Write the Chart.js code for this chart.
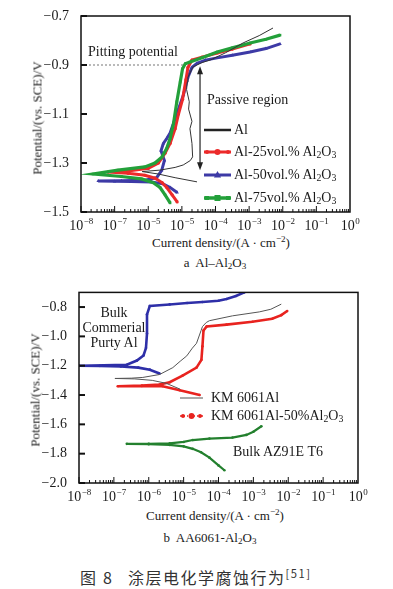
<!DOCTYPE html>
<html lang="zh-CN">
<head>
<meta charset="UTF-8">
<title>涂层电化学腐蚀行为</title>
<script src="https://cdn.jsdelivr.net/npm/chart.js"></script>
<style>
  body { margin: 0; background: #fff; width: 393px; height: 589px; position: relative; overflow: hidden;
         font-family: "Liberation Serif", "Times New Roman", "DejaVu Serif", serif; color: #1a1a1a; }
  canvas { position: absolute; left: 0; }
  .t { position: absolute; white-space: nowrap; font-size: 14px; line-height: 1; transform: translateY(-50%); }
  .c { position: absolute; white-space: nowrap; font-size: 13px; line-height: 1; transform: translate(-50%, -50%); }
  .rot { position: absolute; white-space: nowrap; font-size: 13px; line-height: 1; transform: translate(-50%, -50%) rotate(-90deg); }
  .ctr { text-align: center; line-height: 15px; transform: translate(-50%, 0); }
  sub { font-size: 70%; vertical-align: -0.25em; line-height: 0; }
  sup { font-size: 70%; vertical-align: 0.55em; line-height: 0; }
  .cap { position: absolute; white-space: nowrap; font-family: "Noto Sans CJK SC", sans-serif; font-size: 16px; color: #333; line-height: 1; transform: translateY(-50%); }
</style>
</head>
<body>
  <!-- 图 a -->
  <canvas id="chartA" width="393" height="232" style="top:0"></canvas>
  <div class="rot" style="left:37px; top:118px">Potential/(vs. SCE)/V</div>
  <div class="t" style="left:88px; top:52px">Pitting potential</div>
  <div class="t" style="left:207px; top:100px">Passive region</div>
  <div class="t" style="left:234px; top:130px">Al</div>
  <div class="t" style="left:234px; top:152px">Al-25vol.% Al<sub>2</sub>O<sub>3</sub></div>
  <div class="t" style="left:234px; top:175px">Al-50vol.% Al<sub>2</sub>O<sub>3</sub></div>
  <div class="t" style="left:234px; top:198px">Al-75vol.% Al<sub>2</sub>O<sub>3</sub></div>
  <div class="c" style="left:221px; top:242px">Current density/(A · cm<sup>−2</sup>)</div>
  <div class="c" style="left:215px; top:262px">a&nbsp; Al–Al<sub>2</sub>O<sub>3</sub></div>

  <!-- 图 b -->
  <canvas id="chartB" width="393" height="223" style="top:280px"></canvas>
  <div class="rot" style="left:35px; top:390px">Potential/(vs. SCE)/V</div>
  <div class="t ctr" style="left:114px; top:305px">Bulk<br>Commerial<br>Purty Al</div>
  <div class="t" style="left:211px; top:398px">KM 6061Al</div>
  <div class="t" style="left:211px; top:416px">KM 6061Al-50%Al<sub>2</sub>O<sub>3</sub></div>
  <div class="t" style="left:233px; top:452px">Bulk AZ91E T6</div>
  <div class="c" style="left:215px; top:515px">Current density/(A · cm<sup>−2</sup>)</div>
  <div class="c" style="left:210px; top:537px">b&nbsp; AA6061-Al<sub>2</sub>O<sub>3</sub></div>

  <div class="cap" style="left:80px; top:577px">图<span style="margin-left:7px">8</span></div>
  <div class="cap" style="left:128px; top:577px; letter-spacing:1.5px">涂层电化学腐蚀行为<sup>[51]</sup></div>

<script>
// x 值均为 log10(电流密度 / A·cm⁻²)，y 为电位 / V
const xTicks = [-8, -7, -6, -5, -4, -3, -2, -1, 0];
// 刻度标签 "10" 的指数（图 a 原图第三个标签印作 10⁻⁵）
const xExpA = ['−8', '−7', '−5', '−5', '−4', '−3', '−2', '−1', '0'];
const xExpB = ['−8', '−7', '−6', '−5', '−4', '−3', '−2', '−1', '0'];
const yTicksA = [-1.5, -1.3, -1.1, -0.9, -0.7];
const yTicksB = [-2.0, -1.8, -1.6, -1.4, -1.2, -1.0, -0.8];

// 图 a: Al–Al2O3
const alX  = [-4.55, -5.2, -5.7, -6.18, -5.65, -5.2, -4.96, -4.75, -4.68, -4.7, -4.76, -4.7, -4.8, -4.78, -4.86, -4.84, -4.82, -4.67, -4.4, -4.16, -3.7, -3.18, -2.7, -2.29];
const alY  = [-1.377, -1.36, -1.345, -1.335, -1.329, -1.318, -1.308, -1.29, -1.275, -1.22, -1.16, -1.13, -1.08, -1.05, -1.0, -0.97, -0.95, -0.908, -0.89, -0.88, -0.85, -0.81, -0.78, -0.749];
const al25X = [-5.14, -5.29, -5.45, -5.59, -5.8, -6.1, -6.6, -7.2, -6.6, -6.0, -5.7, -5.5, -5.35, -5.2, -5.1, -4.98, -4.88, -4.82, -4.7, -4.4, -3.95, -3.5, -2.97];
const al25Y = [-1.459, -1.43, -1.4, -1.38, -1.362, -1.35, -1.342, -1.337, -1.333, -1.322, -1.3, -1.26, -1.22, -1.16, -1.1, -1.04, -0.96, -0.91, -0.88, -0.868, -0.851, -0.835, -0.814];
const al50X = [-5.14, -5.35, -5.56, -5.9, -6.5, -7.0, -7.49, -6.8, -6.1, -5.75, -5.6, -5.52, -5.62, -5.55, -5.45, -5.35, -5.1, -4.95, -4.82, -4.7, -4.55, -4.3, -3.95, -3.5, -2.97, -2.5, -2.08];
const al50Y = [-1.42, -1.4, -1.385, -1.378, -1.376, -1.375, -1.373, -1.372, -1.37, -1.36, -1.33, -1.29, -1.25, -1.22, -1.2, -1.178, -1.08, -1.02, -0.95, -0.91, -0.893, -0.88, -0.871, -0.86, -0.847, -0.833, -0.814];
const al75X = [-5.35, -5.5, -5.65, -5.85, -6.2, -6.8, -7.64, -6.9, -6.1, -5.8, -5.59, -5.45, -5.35, -5.25, -5.15, -5.05, -4.98, -4.9, -4.76, -4.4, -3.95, -3.5, -2.97, -2.5, -2.08];
const al75Y = [-1.463, -1.43, -1.4, -1.38, -1.365, -1.355, -1.345, -1.329, -1.316, -1.3, -1.275, -1.24, -1.2, -1.14, -1.05, -0.97, -0.915, -0.895, -0.888, -0.87, -0.847, -0.83, -0.81, -0.795, -0.778];
const pitX = [-8, -4.9];
const pitY = [-0.9, -0.9];
const passiveX = -4.46;
const passiveRange = [-0.905, -1.33];

// 图 b: AA6061-Al2O3
const pureX = [-5.69, -5.97, -6.3, -6.8, -7.4, -8.0, -7.3, -6.63, -6.34, -6.15, -6.08, -6.05, -6.05, -5.97, -5.4, -4.9, -4.46, -4.0, -3.77, -3.5, -3.26];
const pureY = [-1.253, -1.227, -1.213, -1.205, -1.201, -1.2, -1.198, -1.193, -1.165, -1.13, -1.08, -0.98, -0.85, -0.793, -0.782, -0.772, -0.765, -0.757, -0.745, -0.725, -0.7];
const kmX = [-5.1, -5.5, -5.9, -6.4, -6.97, -6.5, -6.17, -5.69, -5.31, -5.1, -4.91, -4.75, -4.63, -4.5, -4.46, -4.35, -4.26, -3.9, -3.6, -2.83, -2.5, -2.2];
const kmY = [-1.36, -1.32, -1.3, -1.29, -1.287, -1.285, -1.28, -1.26, -1.213, -1.17, -1.133, -1.08, -1.047, -0.96, -0.933, -0.905, -0.893, -0.875, -0.86, -0.833, -0.815, -0.78];
const km50X = [-4.54, -5.11, -5.6, -6.2, -6.89, -6.2, -5.69, -5.4, -5.03, -4.63, -4.49, -4.46, -4.43, -4.34, -3.77, -3.03, -2.46, -2.2, -2.03];
const km50Y = [-1.4, -1.367, -1.34, -1.338, -1.34, -1.335, -1.328, -1.313, -1.267, -1.213, -1.16, -1.067, -0.96, -0.933, -0.92, -0.9, -0.88, -0.855, -0.827];
const azX = [-3.83, -4.0, -4.26, -4.5, -4.74, -5.0, -5.4, -6.0, -6.63, -6.0, -5.4, -5.0, -4.74, -4.26, -3.6, -3.2, -3.0, -2.77];
const azY = [-1.913, -1.88, -1.827, -1.79, -1.767, -1.75, -1.74, -1.735, -1.733, -1.733, -1.73, -1.72, -1.707, -1.697, -1.69, -1.672, -1.65, -1.613];

const RED = '#ec2a2a', BLUE = '#3d3aa6', GREEN = '#23a03a';
const FONT = "'Liberation Serif', 'Times New Roman', 'DejaVu Serif', serif";

const pts = (xs, ys) => xs.map((x, i) => ({ x: x, y: ys[i] }));

function line(ctx, x0, y0, x1, y1) {
  ctx.beginPath(); ctx.moveTo(x0, y0); ctx.lineTo(x1, y1); ctx.stroke();
}

function marker(ctx, style, x, y, r) {
  ctx.beginPath();
  if (style === 'circle') ctx.arc(x, y, r, 0, Math.PI * 2);
  else if (style === 'rect') ctx.rect(x - r, y - r, 2 * r, 2 * r);
  else if (style === 'triangle') { ctx.moveTo(x, y - r * 1.3); ctx.lineTo(x + r * 1.2, y + r * 0.8); ctx.lineTo(x - r * 1.2, y + r * 0.8); ctx.closePath(); }
  ctx.fill();
}

// 外框、内向刻度、10ⁿ 标签、图例线样和箭头
const extras = {
  id: 'extras',
  afterDatasetsDraw(chart, args, opts) {
    const { ctx, chartArea: a, scales: { x, y } } = chart;
    ctx.save();
    ctx.strokeStyle = '#111';
    ctx.lineWidth = 1.5;
    ctx.strokeRect(a.left, a.top, a.right - a.left, a.bottom - a.top);
    ctx.lineWidth = 1;
    for (let d = -8; d < 0; d++) {
      for (let m = 1; m <= 9; m++) {
        const px = x.getPixelForValue(d + Math.log10(m));
        line(ctx, px, a.bottom, px, a.bottom - (m === 1 ? 6 : 3));
      }
    }
    ctx.lineWidth = 2;
    opts.yTicks.forEach(v => {
      const py = y.getPixelForValue(v);
      line(ctx, a.left, py, a.left + 6, py);
    });

    // x 轴标签：10 加上标指数
    ctx.fillStyle = '#1a1a1a';
    ctx.textBaseline = 'alphabetic';
    ctx.textAlign = 'left';
    xTicks.forEach((v, i) => {
      const px = x.getPixelForValue(v);
      const e = opts.xExp[i];
      ctx.font = '14px ' + FONT;
      const wBase = ctx.measureText('10').width;
      ctx.font = '9px ' + FONT;
      const wExp = ctx.measureText(e).width;
      const left = px - (wBase + wExp) / 2;
      const base = a.bottom + 18;
      ctx.font = '14px ' + FONT;
      ctx.fillText('10', left, base);
      ctx.font = '9px ' + FONT;
      ctx.fillText(e, left + wBase + 0.5, base - 6);
    });

    if (opts.arrow) {
      const ax = x.getPixelForValue(opts.arrow.x);
      const y0 = y.getPixelForValue(opts.arrow.top), y1 = y.getPixelForValue(opts.arrow.bottom);
      ctx.strokeStyle = '#222'; ctx.fillStyle = '#222'; ctx.lineWidth = 1.2;
      line(ctx, ax, y0 + 5, ax, y1 - 5);
      ctx.beginPath(); ctx.moveTo(ax, y0); ctx.lineTo(ax + 3, y0 + 8); ctx.lineTo(ax - 3, y0 + 8); ctx.closePath(); ctx.fill();
      ctx.beginPath(); ctx.moveTo(ax, y1); ctx.lineTo(ax + 3, y1 - 8); ctx.lineTo(ax - 3, y1 - 8); ctx.closePath(); ctx.fill();
    }

    (opts.legend || []).forEach(e => {
      ctx.strokeStyle = e.color; ctx.fillStyle = e.color; ctx.lineWidth = e.w;
      ctx.setLineDash(e.dash || []);
      line(ctx, opts.lx0, e.y, opts.lx1, e.y);
      ctx.setLineDash([]);
      if (e.marker) {
        marker(ctx, e.marker, (opts.lx0 + opts.lx1) / 2, e.y, 3);
        if (e.marker !== 'triangle') { marker(ctx, e.marker, opts.lx0 + 3, e.y, 2); marker(ctx, e.marker, opts.lx1 - 3, e.y, 2); }
      }
    });
    ctx.restore();
  }
};

function makeChart(id, datasets, cfg) {
  return new Chart(document.getElementById(id), {
    type: 'scatter',
    data: { datasets: datasets },
    options: {
      responsive: false,
      animation: false,
      layout: { padding: cfg.pad },
      elements: { line: { tension: 0 } },
      plugins: {
        legend: { display: false },
        tooltip: { enabled: false },
        extras: cfg.extras
      },
      scales: {
        x: {
          type: 'linear', min: -8, max: 0,
          grid: { display: false }, border: { display: false },
          afterFit: s => { s.height = 20; },
          afterBuildTicks: s => { s.ticks = xTicks.map(v => ({ value: v })); },
          ticks: { display: false }
        },
        y: {
          min: cfg.yMin, max: cfg.yMax,
          grid: { display: false }, border: { display: false },
          afterFit: s => { s.width = 40; },
          afterBuildTicks: s => { s.ticks = cfg.extras.yTicks.map(v => ({ value: v })); },
          ticks: { padding: 4, color: '#1a1a1a', font: { family: FONT, size: 14 },
                   callback: v => '−' + Math.abs(v).toFixed(1) }
        }
      }
    },
    plugins: [extras]
  });
}

makeChart('chartA', [
  { data: pts(alX, alY), showLine: true, borderColor: '#333', borderWidth: 1, pointRadius: 0, order: 0 },
  { data: pts(al75X, al75Y), showLine: true, borderColor: GREEN, backgroundColor: GREEN, borderWidth: 3.2,
    pointStyle: 'rect', pointRadius: 1.8, pointBorderWidth: 0, order: 1 },
  { data: pts(al25X, al25Y), showLine: true, borderColor: RED, backgroundColor: RED, borderWidth: 3,
    pointStyle: 'circle', pointRadius: 1.6, pointBorderWidth: 0, order: 2 },
  { data: pts(al50X, al50Y), showLine: true, borderColor: BLUE, backgroundColor: BLUE, borderWidth: 3,
    pointStyle: 'triangle', pointRadius: 2, pointBorderWidth: 0, order: 3 },
  { data: pts(pitX, pitY), showLine: true, borderColor: '#777', borderWidth: 1, borderDash: [2, 2],
    pointRadius: 0, order: 4 }
], {
  pad: { left: 41, right: 43, top: 16, bottom: 0 },
  yMin: -1.5, yMax: -0.7,
  extras: {
    yTicks: yTicksA,
    xExp: xExpA,
    arrow: { x: passiveX, top: passiveRange[0], bottom: passiveRange[1] },
    lx0: 204, lx1: 231,
    legend: [
      { y: 130, color: '#222', w: 2.5 },
      { y: 152, color: RED, w: 3, marker: 'circle' },
      { y: 175, color: BLUE, w: 3, marker: 'triangle' },
      { y: 198, color: GREEN, w: 3.5, marker: 'rect' }
    ]
  }
});

makeChart('chartB', [
  { data: pts(kmX, kmY), showLine: true, borderColor: '#555', borderWidth: 1, pointRadius: 0, order: 0 },
  { data: pts(pureX, pureY), showLine: true, borderColor: '#2e2fa8', backgroundColor: '#2e2fa8', borderWidth: 2.6,
    pointRadius: 1.3, pointBorderWidth: 0, order: 1 },
  { data: pts(km50X, km50Y), showLine: true, borderColor: '#e8231f', backgroundColor: '#e8231f', borderWidth: 2.6,
    pointRadius: 1.3, pointBorderWidth: 0, order: 2 },
  { data: pts(azX, azY), showLine: true, borderColor: '#23802e', backgroundColor: '#23802e', borderWidth: 2.2,
    pointRadius: 1.3, pointBorderWidth: 0, order: 3 }
], {
  pad: { left: 39, right: 35, top: 8, bottom: 0 },
  yMin: -2.0, yMax: -0.7,
  extras: {
    yTicks: yTicksB,
    xExp: xExpB,
    lx0: 180, lx1: 203,
    legend: [
      { y: 118, color: '#555', w: 1 },
      { y: 136, color: '#e8231f', w: 1.5, dash: [5, 2, 1, 2], marker: 'circle' }
    ]
  }
});
</script>
</body>
</html>
